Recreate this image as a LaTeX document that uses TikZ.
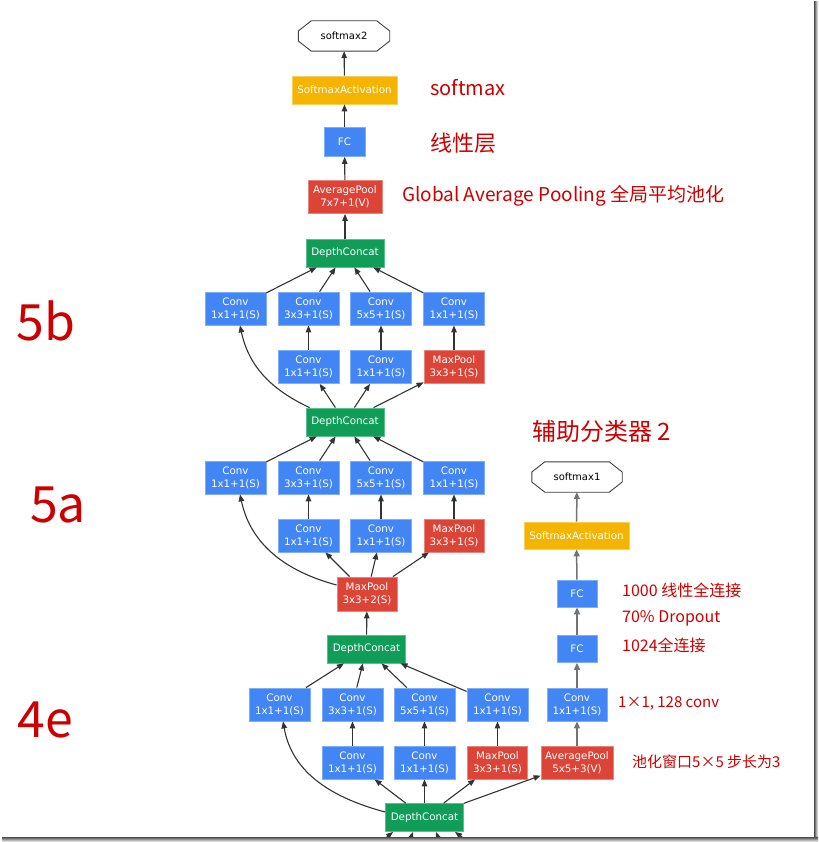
\documentclass[tikz,border=0pt]{standalone}
\usepackage{fontspec}
\newfontfamily\dv{DejaVu Sans}
\newfontfamily\cjk{Noto Sans CJK SC}
\usetikzlibrary{arrows.meta,calc}
\definecolor{gblue}{HTML}{4285F4}
\definecolor{gbluel}{HTML}{7FAEF8}
\definecolor{gred}{HTML}{DB4437}
\definecolor{gredl}{HTML}{E8847A}
\definecolor{ggreen}{HTML}{0F9D58}
\definecolor{ggreenl}{HTML}{5CBE8C}
\definecolor{gyellow}{HTML}{F4B400}
\definecolor{gyellowl}{HTML}{F8CF5C}
\definecolor{hand}{HTML}{CC0000}
\definecolor{edgec}{HTML}{333333}
\tikzset{
  box/.style={rectangle, text=white, font=\dv\fontsize{10.3}{13}\selectfont, align=center, inner sep=0pt, line width=0.8pt},
  bluebox/.style={box, fill=gblue, draw=gbluel, minimum width=61pt, minimum height=33pt},
  redbox/.style={box, fill=gred, draw=gredl, minimum width=60pt, minimum height=33pt},
  concatbox/.style={box, fill=ggreen, draw=ggreenl, minimum width=78pt, minimum height=28pt},
  yellowbox/.style={box, fill=gyellow, draw=gyellowl, minimum width=105pt, minimum height=28pt},
  fcbox/.style={box, fill=gblue, draw=gbluel, minimum width=41pt, minimum height=28pt},
  octnode/.style={rectangle, minimum width=91pt, minimum height=30pt, inner sep=0pt, font=\dv\fontsize{10}{11}\selectfont, text=black},
  conn/.style={draw=edgec, line width=1.1pt, -{Triangle[length=7pt,width=5.5pt]}},
  auxconn/.style={line width=1.5pt, -{Triangle[length=7pt,width=6pt]}, draw=black!55, color=black!55},
  anno/.style={text=hand, inner sep=0pt, anchor=west},
}
\newcommand{\octa}[1]{%
  \draw[black!75, line width=0.9pt] ($(#1.north west)+(13,0)$) -- ($(#1.north east)+(-13,0)$) -- ($(#1.east)+(0,5)$) -- ($(#1.east)+(0,-5)$) -- ($(#1.south east)+(-13,0)$) -- ($(#1.south west)+(13,0)$) -- ($(#1.west)+(0,-5)$) -- ($(#1.west)+(0,5)$) -- cycle;}
\begin{document}
\begin{tikzpicture}[x=1pt,y=1pt]
\clip (0,0) rectangle (818,-842);
\fill[white] (0,0) rectangle (818,-842);

% ---------- top chain ----------
\node[octnode] (sm2) at (344,-36) {softmax2};
\octa{sm2}
\node[yellowbox] (sa2) at (344.5,-90) {SoftmaxActivation};
\node[fcbox, minimum height=29pt] (fc2) at (344.5,-142) {FC};
\node[redbox, minimum width=74pt] (ap2) at (345,-197) {AveragePool\\7x7+1(V)};
\node[concatbox] (dc5b) at (345,-253) {DepthConcat};

% ---------- 5b ----------
\node[bluebox] (b1) at (235.5,-308.5) {Conv\\1x1+1(S)};
\node[bluebox] (b2) at (308.5,-308.5) {Conv\\3x3+1(S)};
\node[bluebox] (b3) at (381,-308.5) {Conv\\5x5+1(S)};
\node[bluebox] (b4) at (454,-308.5) {Conv\\1x1+1(S)};
\node[bluebox] (b5) at (308.5,-367) {Conv\\1x1+1(S)};
\node[bluebox] (b6) at (381,-367) {Conv\\1x1+1(S)};
\node[redbox] (b7) at (454,-367) {MaxPool\\3x3+1(S)};
\node[concatbox] (dc5a) at (345,-422) {DepthConcat};

% ---------- 5a ----------
\node[bluebox] (a1) at (235.5,-477.5) {Conv\\1x1+1(S)};
\node[bluebox] (a2) at (308.5,-477.5) {Conv\\3x3+1(S)};
\node[bluebox] (a3) at (381,-477.5) {Conv\\5x5+1(S)};
\node[bluebox] (a4) at (454,-477.5) {Conv\\1x1+1(S)};
\node[bluebox] (a5) at (308.5,-535.5) {Conv\\1x1+1(S)};
\node[bluebox] (a6) at (381,-535.5) {Conv\\1x1+1(S)};
\node[redbox] (a7) at (454,-535.5) {MaxPool\\3x3+1(S)};
\node[redbox, minimum height=34pt] (mp) at (367,-594) {MaxPool\\3x3+2(S)};
\node[concatbox] (dc4e) at (366.5,-649) {DepthConcat};

% ---------- 4e ----------
\node[bluebox] (e1) at (279.5,-704.5) {Conv\\1x1+1(S)};
\node[bluebox] (e2) at (352.5,-704.5) {Conv\\3x3+1(S)};
\node[bluebox] (e3) at (424.5,-704.5) {Conv\\5x5+1(S)};
\node[bluebox] (e4) at (497.5,-704.5) {Conv\\1x1+1(S)};
\node[bluebox] (e5) at (352.5,-762.5) {Conv\\1x1+1(S)};
\node[bluebox] (e6) at (424.5,-762.5) {Conv\\1x1+1(S)};
\node[redbox] (e7) at (497.5,-762.5) {MaxPool\\3x3+1(S)};
\node[concatbox] (dc4d) at (424.5,-817.5) {DepthConcat};

% ---------- auxiliary classifier ----------
\node[redbox, minimum width=72pt] (x1) at (577,-762.5) {AveragePool\\5x5+3(V)};
\node[bluebox, minimum width=60pt] (x2) at (577,-704.5) {Conv\\1x1+1(S)};
\node[fcbox, minimum width=40pt, minimum height=27pt] (x3) at (577,-649) {FC};
\node[fcbox, minimum width=40pt, minimum height=27pt] (x4) at (577,-593.5) {FC};
\node[yellowbox, minimum height=27pt] (x5) at (576.5,-535.5) {SoftmaxActivation};
\node[octnode, minimum width=90pt] (x6) at (577,-477) {softmax1};
\octa{x6}

% ---------- edges: top ----------
\draw[conn] (sa2) -- (sm2);
\draw[conn] (fc2) -- (sa2);
\draw[conn] (ap2) -- (fc2);
\draw[conn] (dc5b) -- (ap2);

% 5b
\foreach \n in {b1,b2,b3,b4} \draw[conn] (\n) -- (dc5b);
\draw[conn] (b5) -- (b2);
\draw[conn] (b6) -- (b3);
\draw[conn] (b7) -- (b4);
\foreach \n in {b5,b6,b7} \draw[conn] (dc5a) -- (\n);
\draw[conn] ($(dc5a.north west)+(4,0)$) to[out=155,in=-78] ($(b1.south)+(4.5,0)$);

% 5a
\foreach \n in {a1,a2,a3,a4} \draw[conn] (\n) -- (dc5a);
\draw[conn] (a5) -- (a2);
\draw[conn] (a6) -- (a3);
\draw[conn] (a7) -- (a4);
\foreach \n in {a5,a6,a7} \draw[conn] (mp) -- (\n);
\draw[conn] ($(mp.west)+(0,9)$) to[out=165,in=-78] ($(a1.south)+(4.5,0)$);
\draw[conn] (dc4e) -- (mp);

% 4e
\foreach \n in {e1,e2,e3,e4} \draw[conn] (\n) -- (dc4e);
\draw[conn] (e5) -- (e2);
\draw[conn] (e6) -- (e3);
\draw[conn] (e7) -- (e4);
\foreach \n in {e5,e6,e7} \draw[conn] (dc4d) -- (\n);
\draw[conn] ($(dc4d.west)+(0,5.5)$) to[out=165,in=-80] ($(e1.south)+(3.5,0)$);
\draw[conn] (dc4d) -- (x1);

% incoming from below
\coordinate (in1) at (376,-846);
\coordinate (in2) at (408,-846);
\coordinate (in3) at (441,-846);
\coordinate (in4) at (474,-846);
\draw[conn] (in1) -- ($(dc4d.south)+(-31.5,0)$);
\draw[conn] (in2) -- ($(dc4d.south)+(-11.5,0)$);
\draw[conn] (in3) -- ($(dc4d.south)+(11.5,0)$);
\draw[conn] (in4) -- ($(dc4d.south)+(30.5,0)$);

% aux chain
\draw[auxconn] (x1) -- (x2);
\draw[auxconn] (x2) -- (x3);
\draw[auxconn] (x3) -- (x4);
\draw[auxconn] (x4) -- (x5);
\draw[auxconn] (x5) -- (x6);

% ---------- handwritten annotations ----------
\node[anno, font=\cjk\fontsize{20}{20}\selectfont] (tsm) at (430,-88) {softmax};
\node[anno, font=\cjk\fontsize{22}{22}\selectfont] (tlin) at (430,-143) {线性层};
\node[anno, font=\cjk\fontsize{19}{19}\selectfont] (tgap) at (402,-196) {Global Average Pooling 全局平均池化};
\node[anno, font=\cjk\fontsize{24}{24}\selectfont] (taux) at (532,-431) {辅助分类器 2};
\node[anno, font=\cjk\fontsize{16}{16}\selectfont] (t1000) at (622,-590) {1000 线性全连接};
\node[anno, font=\cjk\fontsize{16}{16}\selectfont] (tdrop) at (622,-618) {70\% Dropout};
\node[anno, font=\cjk\fontsize{16}{16}\selectfont] (t1024) at (622,-645) {1024全连接};
\node[anno, font=\cjk\fontsize{15}{15}\selectfont] (tconv) at (618,-703) {1×1, 128 conv};
\node[anno, font=\cjk\fontsize{15}{15}\selectfont] (tpool) at (632,-762) {池化窗口5×5 步长为3};
\node[text=hand, inner sep=0pt, font=\cjk\fontsize{50}{50}\selectfont] (t5b) at (46,-321) {5b};
\node[text=hand, inner sep=0pt, font=\cjk\fontsize{50}{50}\selectfont] (t5a) at (58,-505) {5a};
\node[text=hand, inner sep=0pt, font=\cjk\fontsize{50}{50}\selectfont] (t4e) at (45,-720) {4e};

% ---------- frame shadow ----------
\shade[left color=black!70, right color=white] (814,-2) rectangle (818,-842);
\shade[top color=black!70, bottom color=white] (2,-837) rectangle (818,-842);
\end{tikzpicture}
\end{document}
